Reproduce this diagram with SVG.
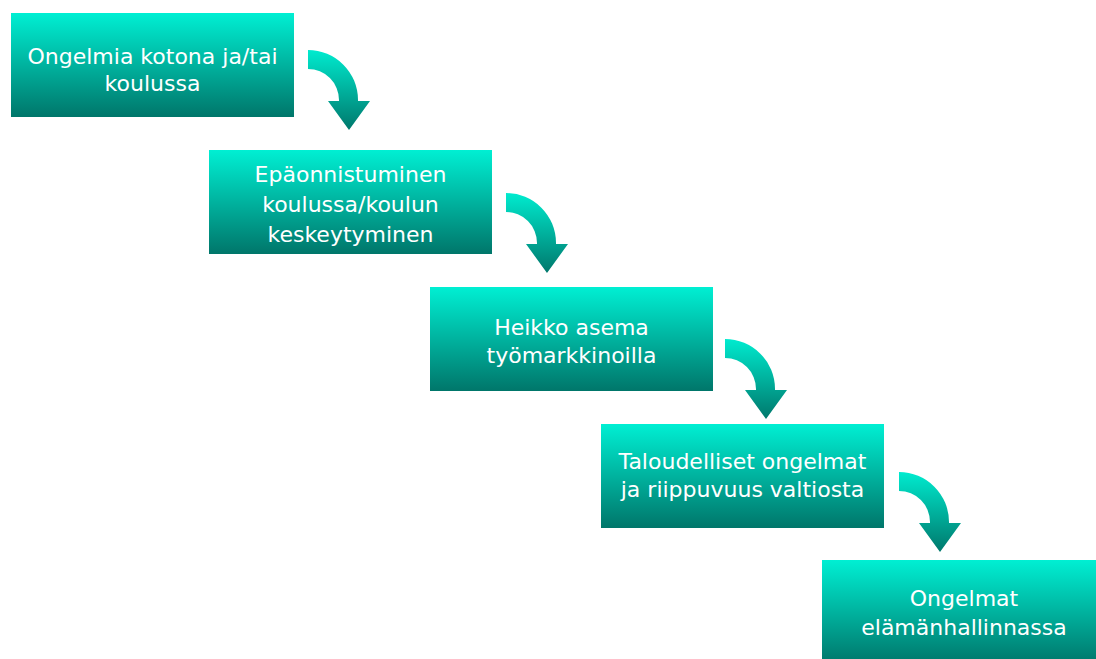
<svg xmlns="http://www.w3.org/2000/svg" xmlns:xlink="http://www.w3.org/1999/xlink" width="1096" height="659" viewBox="0 0 1096 659">
  <defs>
    <linearGradient id="boxGrad" x1="0" y1="0" x2="0" y2="1">
      <stop offset="0" stop-color="#00EFD3"/>
      <stop offset="1" stop-color="#00766A"/>
    </linearGradient>
    <linearGradient id="arrowGrad" x1="0" y1="0" x2="0" y2="1">
      <stop offset="0" stop-color="#00EBCF"/>
      <stop offset="1" stop-color="#00786C"/>
    </linearGradient>
    <path id="arrow" d="M0 0 A50 50 0 0 1 50 50 L50 51 L62 51 L41 80 L20 51 L31 51 L31 50 A31 31 0 0 0 0 19 Z" fill="url(#arrowGrad)"/>
  </defs>
  <style>
    .box { fill: url(#boxGrad); }
    .label { font-family: "DejaVu Sans", "Liberation Sans", sans-serif; font-size: 22px; fill: #FFFFFF; text-anchor: middle; }
  </style>
  <rect width="1096" height="659" fill="#FFFFFF"/>
  <g id="connectors">
    <use xlink:href="#arrow" href="#arrow" transform="translate(308 50)"/>
    <use xlink:href="#arrow" href="#arrow" transform="translate(506 193)"/>
    <use xlink:href="#arrow" href="#arrow" transform="translate(725 339)"/>
    <use xlink:href="#arrow" href="#arrow" transform="translate(899 472)"/>
  </g>
  <g id="node1">
    <rect class="box" x="11" y="13" width="283" height="104"/>
    <text class="label" x="152.5" y="64">Ongelmia kotona ja/tai</text>
    <text class="label" x="152.5" y="91">koulussa</text>
  </g>
  <g id="node2">
    <rect class="box" x="209" y="150" width="283" height="104"/>
    <text class="label" x="350.5" y="182">Epäonnistuminen</text>
    <text class="label" x="350.5" y="212">koulussa/koulun</text>
    <text class="label" x="350.5" y="241.5">keskeytyminen</text>
  </g>
  <g id="node3">
    <rect class="box" x="430" y="287" width="283" height="104"/>
    <text class="label" x="571.5" y="335">Heikko asema</text>
    <text class="label" x="571.5" y="363">työmarkkinoilla</text>
  </g>
  <g id="node4">
    <rect class="box" x="601" y="424" width="283" height="104"/>
    <text class="label" x="742.5" y="469">Taloudelliset ongelmat</text>
    <text class="label" x="742.5" y="497">ja riippuvuus valtiosta</text>
  </g>
  <g id="node5">
    <rect class="box" x="822" y="560" width="283" height="104"/>
    <text class="label" x="964" y="606">Ongelmat</text>
    <text class="label" x="964" y="635">elämänhallinnassa</text>
  </g>
</svg>
